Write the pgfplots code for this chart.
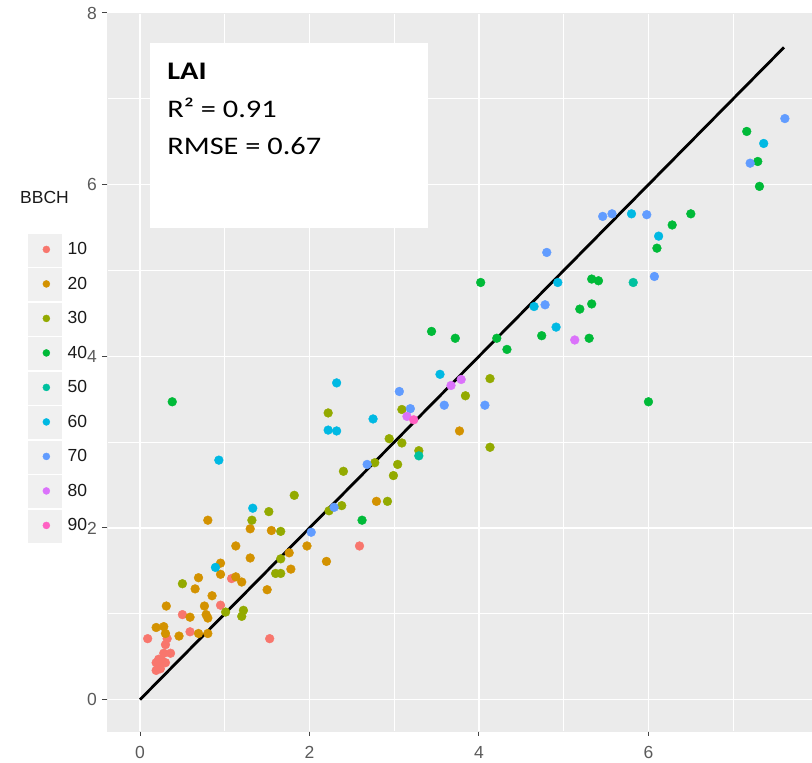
\documentclass[border=0pt]{standalone}
\usepackage{fontspec}
\setmainfont{Liberation Sans}
\newfontfamily\carlito[FakeStretch=1.2]{Carlito}
\usepackage{pgfplots}
\pgfplotsset{compat=1.18}
\definecolor{c10}{HTML}{F8766D}
\definecolor{c20}{HTML}{D39200}
\definecolor{c30}{HTML}{93AA00}
\definecolor{c40}{HTML}{00BA38}
\definecolor{c50}{HTML}{00C19F}
\definecolor{c60}{HTML}{00B9E3}
\definecolor{c70}{HTML}{619CFF}
\definecolor{c80}{HTML}{DB72FB}
\definecolor{c90}{HTML}{FF61C3}
\definecolor{panel}{HTML}{EBEBEB}
\definecolor{keybg}{HTML}{F0F0F0}
\definecolor{ticklab}{HTML}{5A5A5A}
\definecolor{tickc}{HTML}{444444}
\definecolor{legtext}{HTML}{1A1A1A}
\begin{document}
\begin{tikzpicture}
\useasboundingbox (-107pt,-32pt) rectangle (705pt,731pt);
\begin{axis}[
  at={(0pt,0pt)}, anchor=south west,
  width=705pt, height=718pt, scale only axis,
  xmin=-0.39, xmax=7.93, ymin=-0.366, ymax=8.0,
  xtick={0,2,4,6,8}, ytick={0,2,4,6,8},
  minor xtick={1,3,5,7}, minor ytick={1,3,5,7},
  grid=both,
  major grid style={white, line width=1.4pt},
  minor grid style={white, line width=0.7pt},
  axis background/.style={fill=panel},
  axis line style={draw=panel, line width=0.1pt},
  tick align=outside, major tick length=5pt, minor tick length=0pt,
  xtick pos=bottom, ytick pos=left,
  major tick style={draw=tickc, line width=1pt},
  /pgf/number format/assume math mode=true,
  ticklabel style={font=\fontsize{17.5}{17.5}\selectfont, text=ticklab, inner sep=0pt},
  xticklabel style={anchor=north, yshift=-10.5pt},
  yticklabel style={anchor=east, xshift=-5pt},
  legend style={at={(axis description cs:-0.1121,0.695)}, anchor=north west,
    draw=none, fill=none, inner sep=0pt, row sep=0pt, column sep=6pt,
    nodes={inner sep=0pt, font=\fontsize{17.5}{17.5}\selectfont, text=legtext}},
  legend cell align=left,
  legend image code/.code={%
    \fill[keybg] (-18pt,-17.05pt) rectangle (15pt,17.05pt);
    \fill[white] (-18pt,16.45pt) rectangle (15pt,17.05pt);
    \fill (0pt,0pt) circle (3.5pt);},
  every axis plot/.append style={only marks, mark=*, mark size=4.4pt},
]
\addplot[color=c10] coordinates {(0.09,0.71) (0.32,0.71) (1.53,0.71) (0.30,0.64) (0.36,0.54) (0.28,0.54) (0.19,0.43) (0.22,0.47) (0.30,0.43) (0.19,0.34) (0.24,0.36) (0.26,0.45) (0.59,0.79) (0.50,0.99) (0.95,1.10) (1.08,1.41) (2.59,1.79)};
\addlegendentry{10}
\addplot[color=c20] coordinates {(0.80,2.09) (1.30,1.99) (1.55,1.97) (1.13,1.79) (1.97,1.79) (1.30,1.65) (1.76,1.71) (0.95,1.59) (2.20,1.61) (1.78,1.52) (0.69,1.42) (0.95,1.46) (1.13,1.43) (1.20,1.37) (0.65,1.29) (1.50,1.28) (0.85,1.21) (0.31,1.09) (0.76,1.09) (0.59,0.96) (0.78,0.99) (0.80,0.95) (0.19,0.84) (0.28,0.85) (0.30,0.77) (0.46,0.74) (0.69,0.77) (0.80,0.77) (2.79,2.31) (3.77,3.13)};
\addlegendentry{20}
\addplot[color=c30] coordinates {(1.82,2.38) (1.52,2.19) (2.92,2.31) (2.38,2.26) (2.23,2.20) (1.32,2.09) (1.66,1.96) (1.66,1.64) (1.60,1.47) (1.66,1.47) (0.50,1.35) (1.01,1.02) (1.22,1.04) (1.20,0.97) (4.13,3.74) (3.84,3.54) (2.22,3.34) (3.09,3.38) (2.94,3.04) (3.09,2.99) (4.13,2.94) (3.29,2.90) (2.77,2.76) (3.04,2.74) (2.40,2.66) (2.99,2.61)};
\addlegendentry{30}
\addplot[color=c40] coordinates {(2.62,2.09) (0.38,3.47) (4.02,4.86) (5.19,4.55) (4.74,4.24) (3.44,4.29) (3.72,4.21) (4.21,4.21) (4.33,4.08) (7.16,6.62) (7.29,6.27) (7.31,5.98) (6.50,5.66) (6.28,5.53) (6.10,5.26) (5.33,4.90) (5.41,4.88) (5.33,4.61) (5.30,4.21) (6.00,3.47)};
\addlegendentry{40}
\addplot[color=c50] coordinates {(3.29,2.84) (5.82,4.86)};
\addlegendentry{50}
\addplot[color=c60] coordinates {(1.33,2.23) (0.89,1.54) (0.93,2.79) (4.93,4.86) (4.65,4.58) (4.91,4.34) (3.54,3.79) (2.32,3.69) (2.75,3.27) (2.22,3.14) (2.32,3.13) (7.36,6.48) (5.80,5.66) (6.12,5.40)};
\addlegendentry{60}
\addplot[color=c70] coordinates {(2.29,2.24) (2.02,1.95) (4.80,5.21) (4.78,4.60) (3.06,3.59) (3.59,3.43) (4.07,3.43) (3.19,3.39) (2.68,2.74) (7.61,6.77) (7.20,6.25) (5.46,5.63) (5.57,5.66) (5.98,5.65) (6.07,4.93)};
\addlegendentry{70}
\addplot[color=c80] coordinates {(5.13,4.19) (3.79,3.73) (3.67,3.66) (3.15,3.30)};
\addlegendentry{80}
\addplot[color=c90] coordinates {(3.23,3.26)};
\addlegendentry{90}
\addplot[forget plot, sharp plot, no marks, black, line width=2.8pt] coordinates {(0,0) (7.6,7.6)};
\fill[white] (axis cs:0.118,7.654) rectangle (axis cs:3.40,5.489);
\node[anchor=base west, inner sep=0pt, font=\fontsize{25.3}{25.3}\carlito\bfseries] at (axis cs:0.32,7.223) {LAI};
\node[anchor=base west, inner sep=0pt, font=\fontsize{25.3}{25.3}\carlito] at (axis cs:0.32,6.781) {R² = 0.91};
\node[anchor=base west, inner sep=0pt, font=\fontsize{25.3}{25.3}\carlito] at (axis cs:0.32,6.35) {RMSE = 0.67};
\end{axis}
\node[anchor=base west, inner sep=0pt, font=\fontsize{17.5}{17.5}\selectfont, text=legtext] at (-87pt,527pt) {BBCH};
\end{tikzpicture}
\end{document}
